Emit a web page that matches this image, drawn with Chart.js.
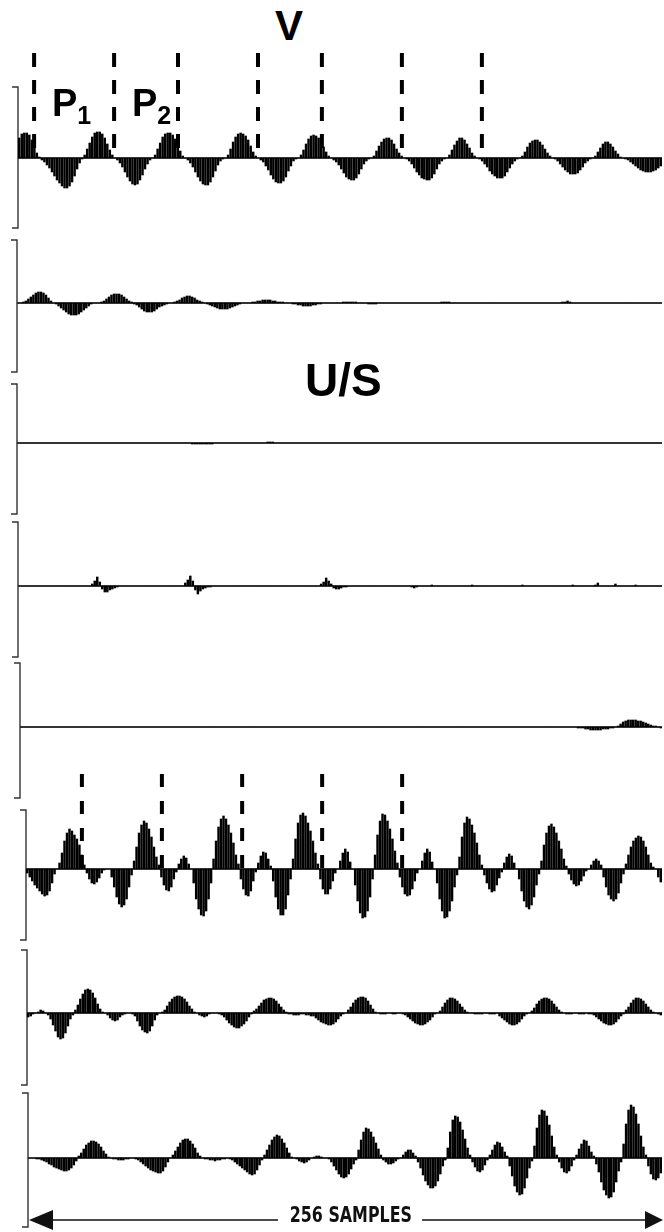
<!DOCTYPE html>
<html>
<head>
    <meta charset="utf-8" />
    <title>V - U/S</title>
    <script src="https://cdn.jsdelivr.net/npm/chart.js"></script>
    <style>
        body { margin: 0; background: #fff; }
        #page { position: relative; width: 664px; height: 1232px; overflow: hidden; font-family: "Liberation Sans", Arial, sans-serif; }
        #page canvas { position: absolute; }
        .lbl { position: absolute; font-weight: bold; color: #000; line-height: 1; white-space: nowrap; }
        .sub { font-size: 25px; position: relative; top: 8px; }
        .samples { font-family: "DejaVu Sans Condensed", "Liberation Sans Narrow", sans-serif; font-size: 21px; background: #fff; padding: 0 13px 0 14px; transform: scaleX(0.84); transform-origin: left top; color: #111; }
    </style>
</head>
<body>
<div id="page">
    <div class="lbl" style="left:275px; top:5px; font-size:42px;">V</div>
    <div class="lbl" style="left:52px; top:84px; font-size:38px;">P<span class="sub">1</span></div>
    <div class="lbl" style="left:132px; top:84px; font-size:38px;">P<span class="sub">2</span></div>
    <div class="lbl" style="left:305px; top:357px; font-size:46px;">U/S</div>
    <div class="lbl samples" style="left:278px; top:1205px;">256 SAMPLES</div>
</div>

<script>
    // 256 samples per trace, amplitude (1 unit ~ 1 px)
    const sampleLabels = Array.from({ length: 256 }, (_, i) => i + 1);

    const trace1 = [
        20,24,25,25,23,18,11,5,1,
        -2,-4,-7,-10,-14,-18,-22,-25,-28,-30,-30,-28,-24,-18,-11,-5,-1,
        3,9,15,21,25,26,26,24,20,14,8,3,
        0,
        -2,-5,-9,-14,-19,-23,-26,-27,-26,-22,-17,-11,-6,-2,0,
        3,9,15,21,24,25,25,23,19,13,7,2,
        0,
        -2,-5,-9,-14,-19,-23,-26,-27,-27,-24,-19,-13,-7,-3,-1,0,
        3,9,16,21,24,25,24,22,18,12,6,2,
        0,
        -2,-4,-8,-12,-17,-21,-24,-25,-25,-23,-19,-13,-8,-3,-1,0,
        3,8,14,19,22,23,22,20,16,11,6,2,
        0,
        -2,-4,-7,-11,-15,-19,-21,-22,-22,-20,-16,-11,-6,-3,-1,0,
        2,7,12,16,19,20,20,18,14,9,5,2,
        0,
        -1,-3,-6,-10,-14,-17,-20,-21,-22,-22,-20,-16,-11,-6,-3,-1,0,
        3,8,13,17,20,20,18,14,10,5,2,
        0,
        -1,-3,-6,-9,-13,-16,-18,-20,-20,-20,-18,-14,-10,-6,-3,-1,0,
        2,6,11,15,17,18,18,16,13,9,5,2,
        0,
        -1,-3,-6,-9,-12,-14,-16,-16,-16,-15,-12,-9,-5,-3,-1,0,
        2,6,10,14,16,16,14,11,7,4,1,
        0,
        -1,-2,-4,-6,-8,-10,-12,-13,-14,-14,-14,-13,-12,-10,-8
    ];

    const trace2 = [
        0,0,1,2,4,6,8,10,11,11,10,8,5,2,0,-1,
        -3,-5,-7,-9,-11,-12,-12,-12,-11,-9,-7,-5,-3,-1,0,0,
        0,1,2,4,6,8,9,9,9,8,6,4,2,1,-1,-2,
        -4,-6,-8,-9,-9,-9,-8,-6,-4,-3,-2,-1,0,0,1,2,
        3,5,6,7,7,6,5,3,2,1,0,-1,-2,-3,-4,-5,
        -6,-6,-6,-6,-5,-4,-3,-2,-1,0,0,0,0,1,1,2,
        2,3,3,3,3,2,2,1,1,1,0,0,0,-1,-1,-2,
        -2,-3,-3,-3,-3,-2,-2,-1,-1,0,0,0,0,0,0,0,
        0,1,1,1,1,1,1,0,0,0,0,-1,-1,-1,-1,0,
        0,0,0,0,0,0,0,0,0,0,0,0,0,0,0,0,
        0,0,0,0,0,0,0,0,1,1,1,1,0,0,0,0,
        0,0,0,0,0,0,0,0,0,0,0,0,0,0,0,0,
        0,0,0,0,0,0,0,0,0,0,0,0,0,0,0,0,
        0,0,0,0,0,0,0,0,1,1,2,1,0,0,0,0,
        0,0,0,0,0,0,0,0,0,0,0,0,0,0,0,0,
        0,0,0,0,0,0,0,0,0,0,0,0,0,0,0,0
    ];

    const trace3 = [
        0,0,0,0,0,0,0,0,0,0,0,0,0,0,0,0,
        0,0,0,0,0,0,0,0,0,0,0,0,0,0,0,0,
        0,0,0,0,0,0,0,0,0,0,0,0,0,0,0,0,
        0,0,0,0,0,0,0,0,0,0,0,0,0,0,0,0,
        0,0,0,0,0,-1,-1,-1,-1,-1,-1,-1,-1,-1,0,0,
        0,0,0,0,0,0,0,0,0,0,0,0,0,0,0,0,
        0,0,0,1,1,1,0,0,0,0,0,0,0,0,0,0,
        0,0,0,0,0,0,0,0,0,0,0,0,0,0,0,0,
        0,0,0,0,0,0,0,0,0,0,0,0,0,0,0,0,
        0,0,0,0,0,0,0,0,0,0,0,0,0,0,0,0,
        0,0,0,0,0,0,0,0,0,0,0,0,0,0,0,0,
        0,0,0,0,0,0,0,0,0,0,0,0,0,0,0,0,
        0,0,0,0,0,0,0,0,0,0,0,0,0,0,0,0,
        0,0,0,0,0,0,0,0,0,0,0,0,0,0,0,0,
        0,0,0,0,0,0,0,0,0,0,0,0,0,0,0,0,
        0,0,0,0,0,0,0,0,0,0,0,0,0,0,0,0
    ];

    const trace4 = [
        0,0,0,0,0,0,0,0,0,0,0,0,0,0,0,0,
        0,0,0,0,0,0,0,0,0,0,0,0,0,2,5,9,
        4,-3,-6,-6,-4,-3,-2,-1,0,0,0,0,0,0,0,0,
        0,0,0,0,0,0,0,0,0,0,0,0,0,0,0,0,
        0,0,3,6,10,5,-4,-8,-5,-3,-2,-1,-1,0,0,0,
        0,0,0,0,0,0,0,0,0,0,0,0,0,0,0,0,
        0,0,0,0,0,0,0,0,0,0,0,0,0,0,0,0,
        0,0,0,0,0,0,0,0,2,4,8,5,2,-2,-3,-3,
        -2,-1,-1,0,0,0,0,0,0,0,0,0,0,0,0,0,
        0,0,0,0,0,0,0,0,0,0,0,0,-1,-2,-1,0,
        0,0,0,0,1,0,0,0,0,0,0,0,0,0,0,0,
        0,0,0,0,1,0,0,0,0,0,0,0,0,0,0,0,
        0,0,0,0,0,0,0,0,1,0,0,0,0,0,0,0,
        0,0,0,0,0,0,0,0,0,0,0,0,1,0,0,0,
        0,0,0,0,0,1,3,0,0,0,0,0,0,2,0,0,
        0,0,0,0,0,1,0,0,0,0,0,0,0,0,0,0
    ];

    const trace5 = [
        0,0,0,0,0,0,0,0,0,0,0,0,0,0,0,0,
        0,0,0,0,0,0,0,0,0,0,0,0,0,0,0,0,
        0,0,0,0,0,0,0,0,0,0,0,0,0,0,0,0,
        0,0,0,0,0,0,0,0,0,0,0,0,0,0,0,0,
        0,0,0,0,0,0,0,0,0,0,0,0,0,0,0,0,
        0,0,0,0,0,0,0,0,0,0,0,0,0,0,0,0,
        0,0,0,0,0,0,0,0,0,0,0,0,0,0,0,0,
        0,0,0,0,0,0,0,0,0,0,0,0,0,0,0,0,
        0,0,0,0,0,0,0,0,0,0,0,0,0,0,0,0,
        0,0,0,0,0,0,0,0,0,0,0,0,0,0,0,0,
        0,0,0,0,0,0,0,0,0,0,0,0,0,0,0,0,
        0,0,0,0,0,0,0,0,0,0,0,0,0,0,0,0,
        0,0,0,0,0,0,0,0,0,0,0,0,0,0,0,0,
        0,0,0,0,0,0,0,0,0,0,0,0,0,0,-1,-1,
        -1,-2,-2,-3,-3,-3,-3,-3,-2,-2,-2,-1,-1,0,1,3,
        5,6,7,7,7,7,6,6,5,4,3,2,1,1,0,-1
    ];

    const trace6 = [
        -4,-8,-12,-16,-19,-22,-25,-27,-26,-22,-14,-5,
        0,
        6,16,28,36,40,38,34,30,24,14,4,
        -4,-10,-14,-15,-13,-9,-4,-1,
        0,0,
        -8,-18,-28,-35,-38,-36,-30,-18,-6,
        8,22,36,44,48,46,40,32,22,12,4,
        -8,-16,-21,-22,-18,-10,-3,
        5,10,13,11,5,
        0,
        -14,-30,-40,-46,-47,-42,-30,-14,
        10,28,42,50,53,50,44,36,26,14,5,
        -10,-20,-26,-27,-22,-12,-3,
        6,13,17,16,10,3,
        -12,-28,-40,-46,-46,-40,-26,-10,
        10,30,46,54,56,53,46,38,28,16,5,
        -10,-20,-25,-25,-20,-12,-4,
        0,
        8,16,20,17,7,
        0,
        -16,-32,-44,-49,-48,-42,-28,-10,
        14,34,48,55,54,48,40,30,18,6,
        -8,-18,-25,-27,-26,-20,-12,-4,
        0,
        8,16,20,17,7,
        0,
        -14,-30,-42,-49,-48,-42,-32,-18,-6,
        12,32,46,52,50,44,36,26,14,4,
        -6,-14,-20,-23,-22,-16,-9,-3,
        6,12,15,13,6,
        0,
        -10,-22,-32,-38,-40,-36,-28,-16,-5,
        8,24,36,43,45,42,36,28,20,10,3,
        -5,-11,-15,-17,-16,-12,-7,-2,
        0,
        4,8,10,8,4,
        -8,-18,-26,-30,-32,-30,-24,-14,-5,
        5,14,22,28,31,33,32,28,22,14,6,2,
        0,
        -8,-13
    ];

    const trace7 = [
        -4,-3,-1,
        0,1,
        3,2,
        0,-2,
        -6,-12,-18,-24,-26,-25,-20,-13,-6,-2,
        3,8,14,19,23,24,23,20,15,9,4,1,
        0,
        -2,-5,-7,-8,-7,-4,-2,
        -1,0,0,-1,
        -3,-8,-13,-17,-19,-20,-18,-13,-7,-2,
        0,1,
        3,7,11,14,16,17,17,16,14,11,7,4,1,
        0,
        -2,-3,-4,-3,-1,
        0,0,0,-1,
        -2,-4,-7,-10,-12,-14,-15,-15,-13,-11,-8,-4,-1,
        2,4,7,10,13,14,15,15,14,12,9,6,3,1,
        -1,-1,-2,-2,-2,-1,-1,-2,-2,-3,-3,
        -5,-7,-9,-10,-11,-12,-12,-11,-9,-6,-3,-1,
        0,
        3,6,10,13,15,16,16,15,12,8,4,1,
        0,-1,-1,-1,0,0,-1,-1,0,0,-1,
        -2,-4,-6,-8,-10,-11,-12,-12,-11,-9,-7,-4,-1,
        0,
        2,6,10,13,15,15,14,12,9,6,3,1,
        0,0,-1,-1,-1,-1,0,0,-1,-1,-1,0,
        -3,-5,-7,-9,-11,-12,-12,-11,-9,-6,-3,-1,
        0,
        2,5,9,12,14,15,15,14,12,9,6,3,1,
        0,-1,-1,-1,0,0,-1,-1,-1,0,-1,-1,
        -2,-4,-6,-8,-10,-11,-12,-12,-11,-9,-6,-3,-1,
        3,6,10,13,15,15,14,12,9,6,3,1,
        0,-1,-2
    ];

    const trace8 = [
        0,0,0,-1,
        -1,-2,-3,-4,-6,-7,-9,-10,-11,-12,-13,-13,-12,-10,-7,-3,
        2,5,9,13,15,17,17,16,14,11,7,4,1,
        0,-1,-1,-2,-2,-2,-1,-1,0,0,-1,-2,
        -4,-6,-8,-10,-12,-13,-14,-15,-15,-13,-9,-4,
        0,
        3,7,11,15,18,19,19,17,14,10,5,2,
        0,-1,-1,-2,-2,-3,-2,-2,-1,-1,0,-1,
        -2,-4,-6,-8,-10,-12,-14,-16,-17,-16,-12,-7,-2,
        3,8,13,18,21,23,22,19,15,10,5,1,
        0,-1,
        -3,-4,-5,-4,-2,
        0,1,2,2,1,0,0,-1,
        -4,-8,-12,-16,-19,-20,-19,-16,-11,-6,-2,
        8,18,26,30,29,26,21,15,9,3,
        -2,-4,-6,-6,-5,-3,-1,
        0,
        3,6,8,8,5,2,
        -4,-10,-17,-23,-27,-30,-30,-28,-23,-16,-8,-2,
        10,26,38,42,41,36,28,19,10,3,
        -4,-9,-13,-14,-12,-7,-2,
        3,8,13,16,15,11,6,2,
        -8,-18,-28,-34,-37,-36,-30,-20,-10,-3,
        12,30,43,48,47,42,33,22,11,3,
        -4,-10,-14,-15,-13,-8,-2,
        3,9,14,18,17,12,6,2,
        -6,-14,-24,-32,-37,-40,-39,-34,-24,-13,-4,
        14,34,48,53,51,44,34,22,11,3,
        -8,-16,-21,-22,-20,-15
    ];

    // dashed period marks, in sample positions
    const topMarkers = [5.9, 37.7, 63.1, 94.9, 120.3, 152.1, 183.9];
    const lowerMarkers = [22.0, 54.2, 86.5, 118.7, 150.9];

    // page layout (pixels)
    const panels = [
        { data: trace1, x0: 18, top: 50,   height: 182, zero: 158,  axis: [87, 228],    marks: topMarkers,   markSpan: [53, 150], dash: [14, 13] },
        { data: trace2, x0: 17, top: 234,  height: 142, zero: 303,  axis: [240, 372] },
        { data: trace3, x0: 17, top: 376,  height: 142, zero: 443,  axis: [384, 514] },
        { data: trace4, x0: 18, top: 518,  height: 142, zero: 586,  axis: [522, 657] },
        { data: trace5, x0: 20, top: 660,  height: 142, zero: 727,  axis: [663, 798] },
        { data: trace6, x0: 26, top: 770,  height: 174, zero: 869,  axis: [810, 940],   marks: lowerMarkers, markSpan: [774, 870], dash: [13, 14] },
        { data: trace7, x0: 27, top: 944,  height: 144, zero: 1013, axis: [950, 1085] },
        { data: trace8, x0: 28, top: 1088, height: 144, zero: 1158, axis: [1093, 1227], arrowAt: 1220 }
    ];

    const traceMarks = {
        id: 'traceMarks',
        beforeDatasetsDraw(chart, args, o) {
            const { ctx, chartArea: a, scales: { y } } = chart;
            ctx.save();
            ctx.strokeStyle = '#111';
            ctx.lineWidth = 1.6;
            const y0 = y.getPixelForValue(0);
            ctx.beginPath();
            ctx.moveTo(a.left, y0);
            ctx.lineTo(a.right, y0);
            ctx.stroke();
            // left axis with bracket ends
            ctx.strokeStyle = '#333';
            ctx.lineWidth = 1.4;
            const yt = y.getPixelForValue(o.axisTop);
            const yb = y.getPixelForValue(o.axisBottom);
            ctx.beginPath();
            ctx.moveTo(a.left - 6, yt);
            ctx.lineTo(a.left, yt);
            ctx.lineTo(a.left, yb);
            ctx.lineTo(a.left - 6, yb);
            ctx.stroke();
            ctx.restore();
        },
        afterDatasetsDraw(chart, args, o) {
            const { ctx, chartArea: a, scales: { x, y } } = chart;
            ctx.save();
            if (o.marks) {
                ctx.strokeStyle = '#000';
                ctx.lineWidth = 4;
                ctx.setLineDash(o.dash);
                const yA = y.getPixelForValue(o.markFrom);
                const yB = y.getPixelForValue(o.markTo);
                o.marks.forEach(m => {
                    const px = x.getPixelForValue(m);
                    ctx.beginPath();
                    ctx.moveTo(px, yA);
                    ctx.lineTo(px, yB);
                    ctx.stroke();
                });
                ctx.setLineDash([]);
            }
            if (o.arrow !== undefined) {
                const ya = y.getPixelForValue(o.arrow);
                ctx.strokeStyle = '#111';
                ctx.fillStyle = '#111';
                ctx.lineWidth = 1.5;
                ctx.beginPath();
                ctx.moveTo(a.left + 10, ya);
                ctx.lineTo(a.right - 8, ya);
                ctx.stroke();
                ctx.beginPath();
                ctx.moveTo(a.left + 1, ya);
                ctx.lineTo(a.left + 25, ya - 10);
                ctx.lineTo(a.left + 25, ya + 10);
                ctx.closePath();
                ctx.fill();
                ctx.beginPath();
                ctx.moveTo(a.right + 1, ya);
                ctx.lineTo(a.right - 17, ya - 9);
                ctx.lineTo(a.right - 17, ya + 9);
                ctx.closePath();
                ctx.fill();
            }
            ctx.restore();
        }
    };

    const page = document.getElementById('page');

    panels.forEach(p => {
        const canvas = document.createElement('canvas');
        const left = p.x0 - 10;
        canvas.width = 664 - left;
        canvas.height = p.height;
        canvas.style.left = left + 'px';
        canvas.style.top = p.top + 'px';
        page.insertBefore(canvas, page.firstChild);

        const yMax = p.zero - p.top;
        const yMin = p.zero - (p.top + p.height);

        new Chart(canvas, {
            type: 'bar',
            data: {
                labels: sampleLabels,
                datasets: [{
                    data: p.data,
                    backgroundColor: '#000',
                    barThickness: 1.8,
                    borderWidth: 0
                }]
            },
            options: {
                responsive: false,
                animation: false,
                events: [],
                layout: { padding: { left: 10, right: 2, top: 0, bottom: 0 } },
                plugins: {
                    legend: { display: false },
                    tooltip: { enabled: false },
                    traceMarks: {
                        axisTop: p.zero - p.axis[0],
                        axisBottom: p.zero - p.axis[1],
                        marks: p.marks,
                        markFrom: p.markSpan ? p.zero - p.markSpan[0] : 0,
                        markTo: p.markSpan ? p.zero - p.markSpan[1] : 0,
                        dash: p.dash,
                        arrow: p.arrowAt !== undefined ? p.zero - p.arrowAt : undefined
                    }
                },
                scales: {
                    x: { display: false },
                    y: { display: false, min: yMin, max: yMax }
                }
            },
            plugins: [traceMarks]
        });
    });
</script>
</body>
</html>
